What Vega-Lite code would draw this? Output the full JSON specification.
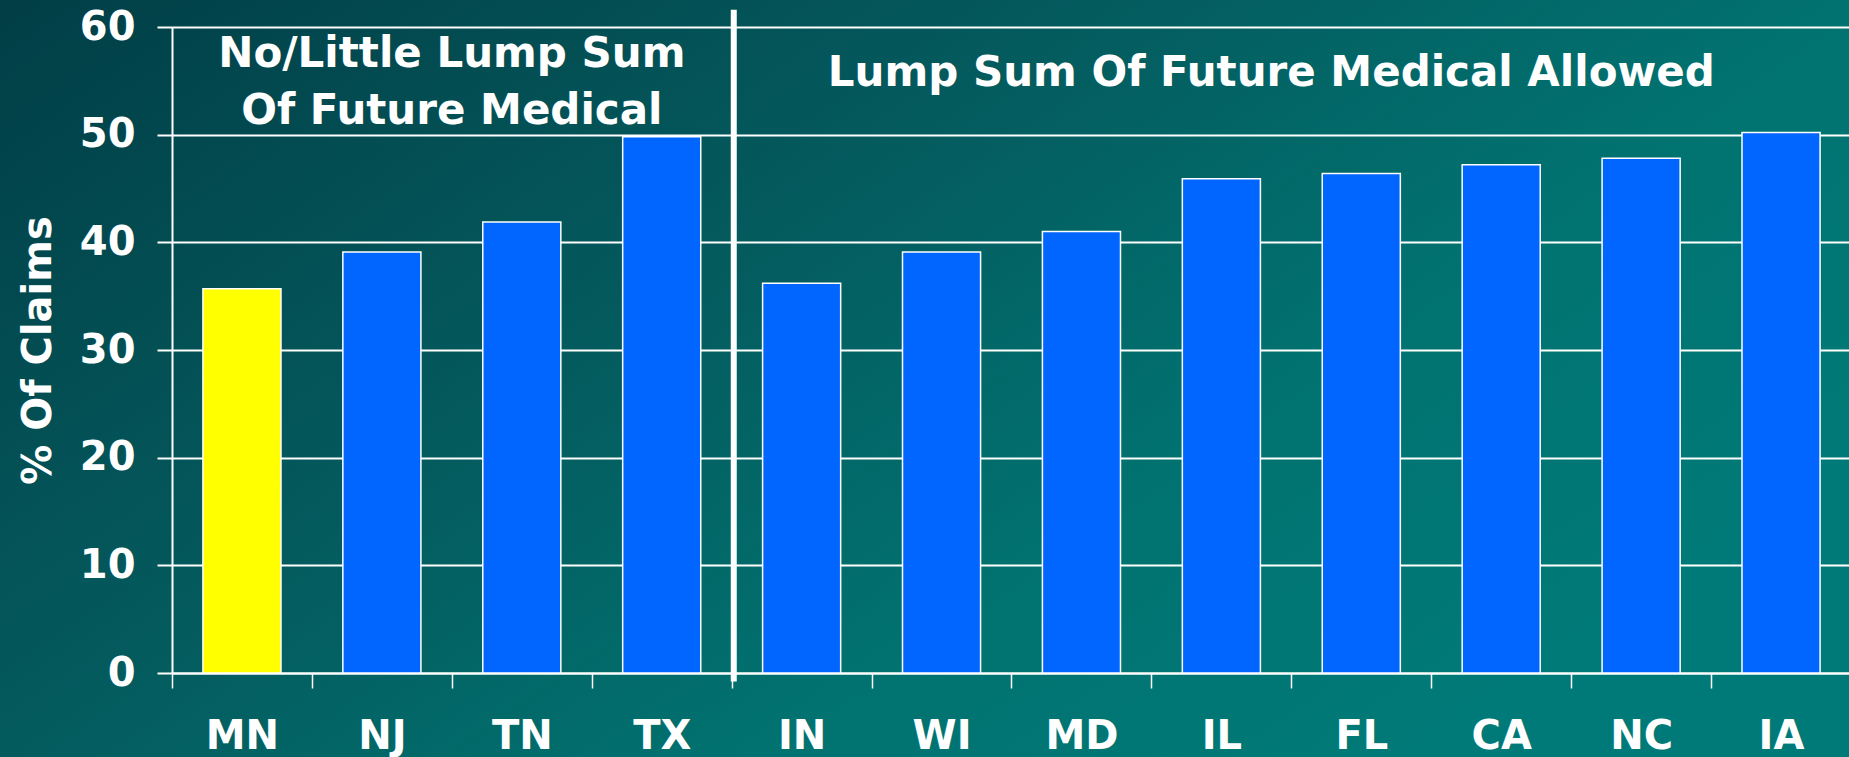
{
  "$schema": "https://vega.github.io/schema/vega-lite/v6.json",
  "width": 1849,
  "height": 757,
  "autosize": "none",
  "padding": 0,
  "background": "#035a5e",
  "config": {
    "font": "DejaVu Sans",
    "view": {
      "stroke": null,
      "fill": {
        "gradient": "linear",
        "x1": 0, "y1": 0, "x2": 1, "y2": 0.6,
        "stops": [
          {"offset": 0, "color": "#013e46"},
          {"offset": 0.44, "color": "#045b5e"},
          {"offset": 0.735, "color": "#017270"},
          {"offset": 1, "color": "#007a78"}
        ]
      }
    }
  },
  "data": {
    "values": [
      {"state": "MN", "pct": 35.7, "focus": "yes"},
      {"state": "NJ", "pct": 39.1, "focus": "no"},
      {"state": "TN", "pct": 41.9, "focus": "no"},
      {"state": "TX", "pct": 49.8, "focus": "no"},
      {"state": "IN", "pct": 36.2, "focus": "no"},
      {"state": "WI", "pct": 39.1, "focus": "no"},
      {"state": "MD", "pct": 41.0, "focus": "no"},
      {"state": "IL", "pct": 45.9, "focus": "no"},
      {"state": "FL", "pct": 46.4, "focus": "no"},
      {"state": "CA", "pct": 47.2, "focus": "no"},
      {"state": "NC", "pct": 47.8, "focus": "no"},
      {"state": "IA", "pct": 50.2, "focus": "no"}
    ]
  },
  "layer": [
    {
      "mark": {"type": "bar", "width": {"band": 0.558}, "stroke": "white", "strokeWidth": 1.5},
      "encoding": {
        "x": {
          "field": "state",
          "type": "nominal",
          "scale": {
            "domain": ["MN", "NJ", "TN", "TX", "IN", "WI", "MD", "IL", "FL", "CA", "NC", "IA"],
            "range": [172, 1851],
            "paddingInner": 0,
            "paddingOuter": 0
          },
          "axis": {
            "title": null,
            "offset": -84,
            "labelAngle": 0,
            "grid": false,
            "domainColor": "white",
            "domainWidth": 2,
            "tickColor": "white",
            "tickWidth": 1.5,
            "tickSize": 15,
            "tickBand": "extent",
            "labelColor": "white",
            "labelFont": "DejaVu Sans",
            "labelFontWeight": "bold",
            "labelFontSize": 40,
            "labelPadding": 28
          }
        },
        "y": {
          "field": "pct",
          "type": "quantitative",
          "scale": {"domain": [0, 60], "range": [673, 27], "nice": false, "zero": true},
          "axis": {
            "values": [0, 10, 20, 30, 40, 50, 60],
            "offset": -172,
            "grid": true,
            "gridColor": "white",
            "gridWidth": 2,
            "gridOpacity": 1,
            "domainColor": "white",
            "domainWidth": 2,
            "tickColor": "white",
            "tickWidth": 2,
            "tickSize": 15,
            "labelColor": "white",
            "labelFont": "DejaVu Sans",
            "labelFontWeight": "bold",
            "labelFontSize": 40,
            "labelPadding": 22,
            "title": "% Of Claims",
            "titleColor": "white",
            "titleFont": "DejaVu Sans",
            "titleFontWeight": "bold",
            "titleFontSize": 40,
            "titlePadding": 21
          }
        },
        "color": {
          "field": "focus",
          "type": "nominal",
          "scale": {"domain": ["yes", "no"], "range": ["#ffff00", "#0066ff"]},
          "legend": null
        }
      }
    },
    {
      "data": {"values": [{"divider": "between groups"}]},
      "mark": {"type": "rule", "color": "white", "strokeWidth": 6},
      "encoding": {
        "x": {"datum": "IN", "bandPosition": 0.015},
        "y": {"datum": 61.6},
        "y2": {"datum": -0.8}
      }
    },
    {
      "data": {"values": [{"label": "No/Little Lump Sum\nOf Future Medical"}]},
      "mark": {"type": "text", "color": "white", "font": "DejaVu Sans", "fontWeight": "bold", "fontSize": 42, "align": "center", "baseline": "alphabetic", "lineBreak": "\n", "lineHeight": 57},
      "encoding": {
        "x": {"datum": "TN", "bandPosition": 0},
        "y": {"datum": 56.3},
        "text": {"field": "label"}
      }
    },
    {
      "data": {"values": [{"label": "Lump Sum Of Future Medical Allowed"}]},
      "mark": {"type": "text", "color": "white", "font": "DejaVu Sans", "fontWeight": "bold", "fontSize": 42, "align": "center", "baseline": "alphabetic"},
      "encoding": {
        "x": {"datum": "IL", "bandPosition": 0.857},
        "y": {"datum": 54.5},
        "text": {"field": "label"}
      }
    }
  ]
}
